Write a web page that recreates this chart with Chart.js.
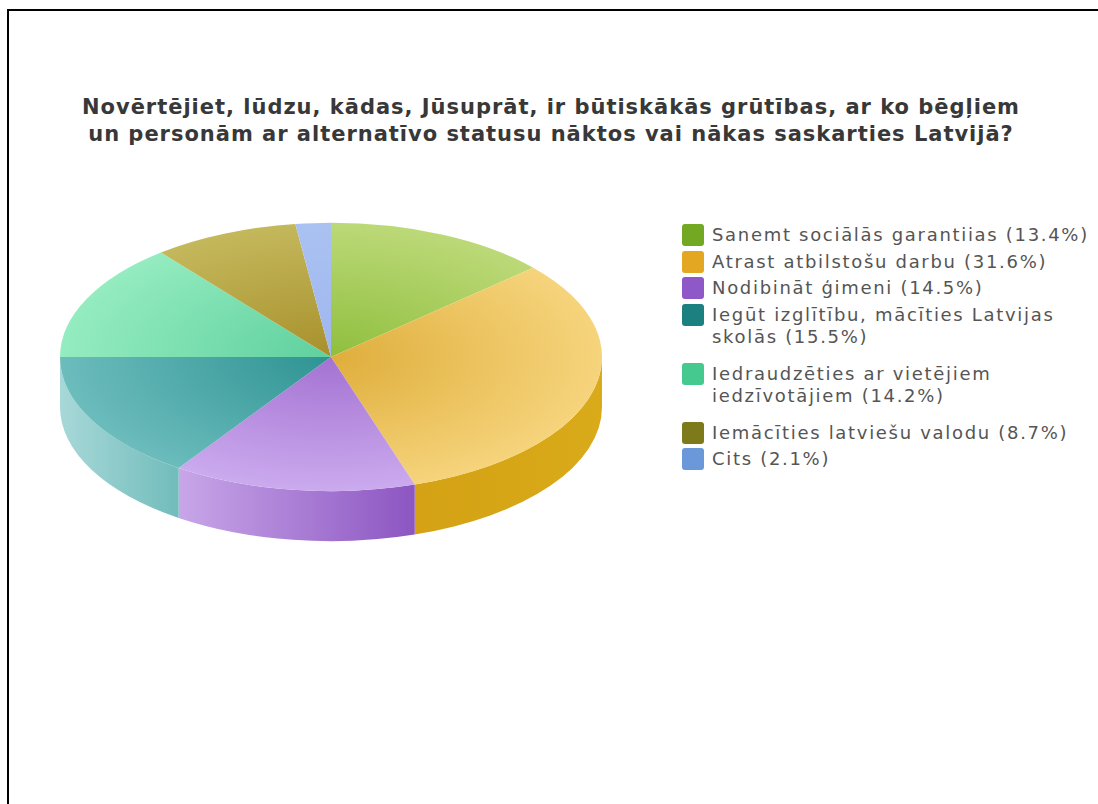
<!DOCTYPE html>
<html>
<head>
<meta charset="utf-8">
<script src="https://cdn.jsdelivr.net/npm/chart.js@4.4.1/dist/chart.umd.min.js"></script>
<style>
  html,body{margin:0;padding:0;background:#fff;width:1098px;height:804px;overflow:hidden;}
  #frame{position:absolute;left:7px;top:9px;width:1200px;height:1000px;border-left:2px solid #000;border-top:2px solid #000;}
  #title{position:absolute;left:0;top:94px;width:1102px;text-align:center;font-family:"DejaVu Sans",sans-serif;font-weight:bold;font-size:21px;line-height:27px;color:#383838;white-space:nowrap;}
  #wrap{position:absolute;left:60px;top:86px;width:542px;height:542px;}
  #legend{position:absolute;left:682px;top:224px;width:416px;font-family:"DejaVu Sans",sans-serif;font-size:18px;color:#555;}
  .item{position:relative;padding-left:30px;line-height:22.5px;margin-bottom:4px;}
  .item.multi{margin-bottom:14px;}
  .sw{position:absolute;left:0;top:0;width:22px;height:22px;border-radius:3px;}
</style>
</head>
<body>
<div id="frame"></div>
<div id="title"></div>
<div id="wrap"><canvas id="c" width="542" height="542"></canvas></div>
<div id="legend"></div>
<script>
const titleLines = [
  "Novērtējiet, lūdzu, kādas, Jūsuprāt, ir būtiskākās grūtības, ar ko bēgļiem",
  "un personām ar alternatīvo statusu nāktos vai nākas saskarties Latvijā?"
];
const categories = [
  "Sanemt sociālās garantiias",
  "Atrast atbilstošu darbu",
  "Nodibināt ģimeni",
  "Iegūt izglītību, mācīties Latvijas skolās",
  "Iedraudzēties ar vietējiem iedzīvotājiem",
  "Iemācīties latviešu valodu",
  "Cits"
];
const values = [13.4, 31.6, 14.5, 15.5, 14.2, 8.7, 2.1];

const legendColors = ["#73a822","#e3a722","#8e58c8","#1c7f80","#45c98f","#7d7a1c","#6a98d8"];
const topInner = ["#8fbf3e","#dfae3c","#a472d2","#2f9393","#5fd09e","#a8902c","#9fb6ee"];
const topOuter = ["#bcd978","#f6d47c","#cbaaee","#6cbcbc","#94ecc0","#c4b85c","#aac2f2"];
const sideLeft = ["#9cc450","#d4a214","#c8a6e8","#a8d8d8","#80d8b0","#a09030","#90a8e0"];
const sideRight = ["#88b040","#d9aa1a","#8c56c2","#72bcbc","#60c898","#908020","#7898d0"];

const TILT = 0.495;
const DEPTH = 50;

const mctx = document.createElement('canvas').getContext('2d');
function fitSpacing(text, font, target) {
  mctx.font = font;
  const w = mctx.measureText(text).width;
  return (target - w) / text.length;
}

const titleEl = document.getElementById('title');
titleEl.innerHTML = titleLines.join('<br>');
titleEl.style.letterSpacing = fitSpacing(titleLines[0], 'bold 21px "DejaVu Sans"', 938).toFixed(2) + 'px';

const legend = document.getElementById('legend');
const legendTexts = categories.map((c,i)=> c + ' (' + values[i].toFixed(1) + '%)');
legend.style.letterSpacing = fitSpacing(legendTexts[0], '18px "DejaVu Sans"', 377).toFixed(2) + 'px';
const textWidth = 384;
legendTexts.forEach((t,i)=>{
  const d = document.createElement('div');
  d.className = 'item';
  d.style.width = textWidth + 'px';
  d.innerHTML = '<span class="sw" style="background:'+legendColors[i]+'"></span>' + t;
  legend.appendChild(d);
  if (d.offsetHeight > 30) d.classList.add('multi');
});

const pie3d = {
  id: 'pie3d',
  beforeDatasetsDraw(chart) {
    const ctx = chart.ctx;
    const meta = chart.getDatasetMeta(0);
    const first = meta.data[0];
    const cx = first.x, cy = first.y, r = first.outerRadius;
    meta.data.forEach((arc, i) => {
      const lo = Math.max(arc.startAngle, 0);
      const hi = Math.min(arc.endAngle, Math.PI);
      if (hi <= lo) return;
      const x1 = cx + r * Math.cos(hi), x0 = cx + r * Math.cos(lo);
      const g = ctx.createLinearGradient(Math.min(x0,x1), 0, Math.max(x0,x1), 0);
      g.addColorStop(0, sideLeft[i]);
      g.addColorStop(1, sideRight[i]);
      ctx.save();
      ctx.beginPath();
      ctx.ellipse(cx, cy, r, r * TILT, 0, lo, hi, false);
      ctx.ellipse(cx, cy + DEPTH, r, r * TILT, 0, hi, lo, true);
      ctx.closePath();
      ctx.fillStyle = g;
      ctx.fill();
      ctx.restore();
    });
    ctx.save();
    ctx.translate(0, cy);
    ctx.scale(1, TILT);
    ctx.translate(0, -cy);
  },
  afterDatasetsDraw(chart) {
    chart.ctx.restore();
  }
};

function topColor(c) {
  const i = c.dataIndex;
  const chart = c.chart;
  const area = chart.chartArea;
  if (!area) return topOuter[i];
  const cx = (area.left + area.right) / 2, cy = (area.top + area.bottom) / 2;
  const r = Math.min(area.right - area.left, area.bottom - area.top) / 2;
  const g = chart.ctx.createRadialGradient(cx, cy, 0, cx, cy, r);
  g.addColorStop(0, topInner[i]);
  g.addColorStop(1, topOuter[i]);
  return g;
}

new Chart(document.getElementById('c'), {
  type: 'pie',
  data: {
    labels: categories,
    datasets: [{
      data: values,
      backgroundColor: topColor,
      borderWidth: 0,
      clip: false
    }]
  },
  options: {
    responsive: false,
    animation: false,
    events: [],
    layout: { padding: 0 },
    plugins: { legend: { display: false }, tooltip: { enabled: false }, title: { display: false } }
  },
  plugins: [pie3d]
});
</script>
</body>
</html>
